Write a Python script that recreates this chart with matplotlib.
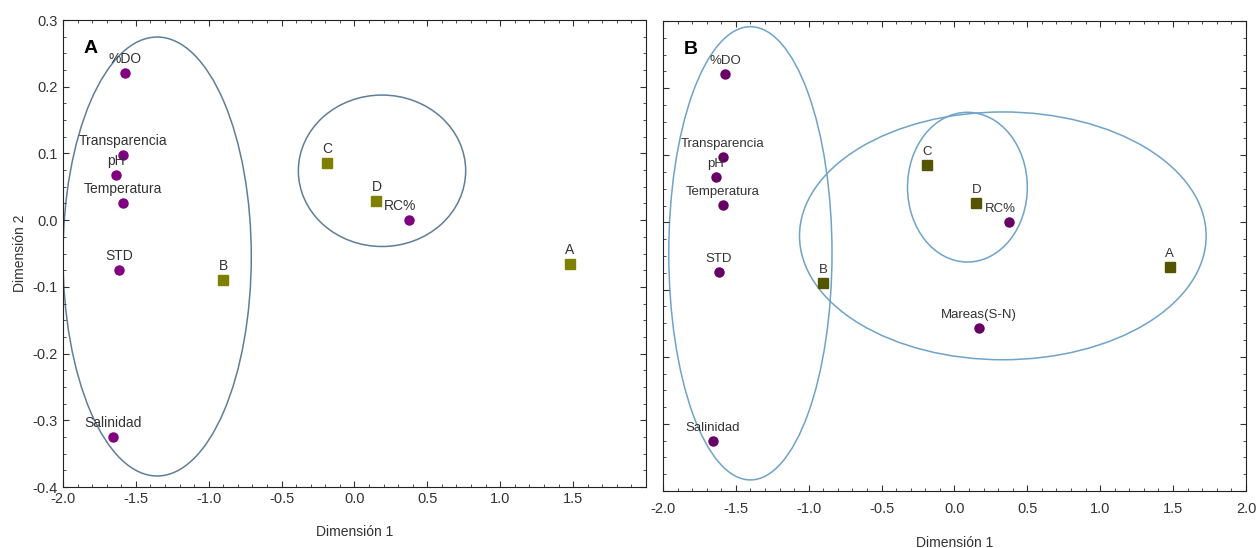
import matplotlib.pyplot as plt
from matplotlib.patches import Ellipse
from matplotlib.ticker import MultipleLocator
import numpy as np

plt.rcParams['font.family'] = ['Liberation Sans', 'DejaVu Sans']
plt.rcParams['axes.unicode_minus'] = False

# variables (circulos)
var_nombres = ['%DO', 'Transparencia', 'pH', 'Temperatura', 'STD', 'Salinidad', 'RC%']
var_x = [-1.574, -1.588, -1.636, -1.59, -1.615, -1.656, 0.371]
var_y = [0.221, 0.098, 0.068, 0.026, -0.074, -0.325, 0.0]

# estaciones (cuadrados)
est_nombres = ['A', 'B', 'C', 'D']
est_x = [1.478, -0.90, -0.186, 0.151]
est_y = [-0.066, -0.090, 0.085, 0.029]

# solo en panel B
mareas_x = [0.17]
mareas_y = [-0.157]

# elipses (centro x, centro y, ancho, alto)
elipses_A = [(-1.354, -0.0545, 1.292, 0.658), (0.189, 0.074, 1.148, 0.227)]
elipses_B = [(-1.40, -0.046, 1.12, 0.675), (0.332, -0.020, 2.79, 0.369), (0.089, 0.0525, 0.822, 0.223)]

fig = plt.figure(figsize=(12.57, 5.48), dpi=100)
axA = fig.add_axes([0.0501, 0.1113, 0.4638, 0.8522])
axB = fig.add_axes([0.5274, 0.1040, 0.4638, 0.8577])

def panel(ax, letra, elipses, col_circ, col_cuad, col_el, fs, extra=False):
  for (cx, cy, w, h) in elipses:
    ax.add_patch(Ellipse((cx, cy), w, h, fill=False, edgecolor=col_el, lw=1.1))
  ax.plot(var_x, var_y, 'o', color=col_circ, ms=6.5, zorder=3)
  ax.plot(est_x, est_y, 's', color=col_cuad, ms=7, zorder=3)
  for n, x, y in zip(var_nombres, var_x, var_y):
    dx = -6 if n == 'RC%' else 0
    ax.annotate(n, (x, y), xytext=(dx, 5), textcoords='offset points',
                ha='center', va='bottom', fontsize=fs, color='#333333')
  for n, x, y in zip(est_nombres, est_x, est_y):
    ax.annotate(n, (x, y), xytext=(0, 5), textcoords='offset points',
                ha='center', va='bottom', fontsize=fs, color='#333333')
  if extra:
    ax.plot(mareas_x, mareas_y, 'o', color=col_circ, ms=6.5, zorder=3)
    ax.annotate('Mareas(S-N)', (mareas_x[0], mareas_y[0]), xytext=(0, 5),
                textcoords='offset points', ha='center', va='bottom', fontsize=fs, color='#333333')
  ax.text(0.035, 0.94, letra, transform=ax.transAxes, fontsize=14, fontweight='bold', va='center')
  ax.set_xlim(-2.0, 2.0)
  ax.set_ylim(-0.4, 0.3)
  ax.xaxis.set_major_locator(MultipleLocator(0.5))
  ax.xaxis.set_minor_locator(MultipleLocator(0.1))
  ax.yaxis.set_major_locator(MultipleLocator(0.1))
  ax.yaxis.set_minor_locator(MultipleLocator(0.025))
  ax.tick_params(which='both', direction='in', top=True, right=True, labelsize=10.5, colors='#333333')
  ax.tick_params(which='major', length=4)
  ax.tick_params(which='minor', length=2)
  for s in ax.spines.values():
    s.set_color('#222222')

panel(axA, 'A', elipses_A, '#800080', '#808000', '#5f7e98', 10)
axA.set_xticks([-2.0, -1.5, -1.0, -0.5, 0.0, 0.5, 1.0, 1.5])
axA.set_xticklabels(['-2.0', '-1.5', '-1.0', '-0.5', '0.0', '0.5', '1.0', '1.5'])
axA.set_xlabel('Dimensión 1', fontsize=10, color='#333333', labelpad=14)
axA.set_ylabel('Dimensión 2', fontsize=10, color='#333333', labelpad=4)

panel(axB, 'B', elipses_B, '#660066', '#555500', '#6fa3c9', 9.5, extra=True)
axB.tick_params(labelleft=False, labelsize=10.5, pad=8)
axB.set_xlabel('Dimensión 1', fontsize=10, color='#333333', labelpad=14)

fig.savefig('out.png', dpi=100)
